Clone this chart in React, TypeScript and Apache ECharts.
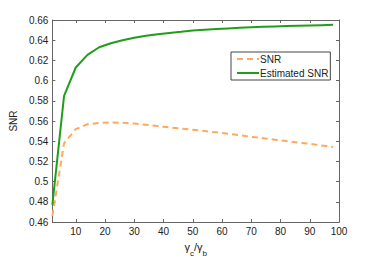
import React, { useEffect, useRef } from "react";
import * as echarts from "echarts";

const xValues = [2, 6, 10, 14, 18, 22, 26, 30, 34, 38, 42, 46, 50, 54, 58, 62, 66, 70, 74, 78, 82, 86, 90, 94, 98];
const snr = [0.466, 0.538, 0.552, 0.5568, 0.5582, 0.5586, 0.5583, 0.5575, 0.5563, 0.555, 0.5537, 0.5526, 0.5514, 0.5501, 0.5488, 0.5474, 0.5459, 0.5444, 0.543, 0.5416, 0.5402, 0.5388, 0.5374, 0.5359, 0.5344];
const estimatedSnr = [0.477, 0.585, 0.613, 0.6255, 0.633, 0.637, 0.64, 0.6425, 0.6445, 0.646, 0.6472, 0.6483, 0.6495, 0.6503, 0.651, 0.6517, 0.6523, 0.6528, 0.6532, 0.6536, 0.654, 0.6543, 0.6546, 0.6549, 0.6552];
const xTicks = [10, 20, 30, 40, 50, 60, 70, 80, 90, 100];
const seriesNames = ["SNR", "Estimated SNR"];

const FONT = "'Liberation Sans', Arial, sans-serif";
const AXIS_COLOR = "#666";

export default function App() {
  const ref = useRef<HTMLDivElement>(null);
  useEffect(() => {
    if (!ref.current) return;
    const chart = echarts.init(ref.current, null, { renderer: "svg" });
    const baseX = {
      type: "value" as const,
      min: 2,
      max: 100,
      splitLine: { show: false },
      axisLine: { show: true, lineStyle: { color: AXIS_COLOR, width: 1 } },
      axisTick: { show: true, inside: true, length: 3, customValues: xTicks, lineStyle: { color: AXIS_COLOR } },
    };
    const baseY = {
      type: "value" as const,
      min: 0.46,
      max: 0.66,
      interval: 0.02,
      splitLine: { show: false },
      axisLine: { show: true, lineStyle: { color: AXIS_COLOR, width: 1 } },
      axisTick: { show: true, inside: true, length: 3, lineStyle: { color: AXIS_COLOR } },
    };
    chart.setOption({
      animation: false,
      textStyle: { fontFamily: FONT },
      grid: { left: 49, right: 35, top: 20, bottom: 29, containLabel: false },
      legend: {
        data: seriesNames,
        orient: "vertical",
        left: 231,
        top: 52,
        itemWidth: 22,
        itemHeight: 10,
        itemGap: 4,
        padding: [2, 2, 2, 5],
        borderColor: "#444",
        borderWidth: 1,
        backgroundColor: "#fff",
        borderRadius: 0,
        itemStyle: { opacity: 0 },
        textStyle: { fontSize: 10, color: "#222", fontFamily: FONT, padding: [0, 0, 0, -4] },
      },
      xAxis: [
        {
          ...baseX,
          position: "bottom",
          axisLabel: { show: true, customValues: xTicks, fontSize: 10, color: "#222", margin: 4, fontFamily: FONT },
          name: "{a|γ}{s|c}{a|/γ}{s|b}",
          nameLocation: "middle",
          nameGap: 16,
          nameTextStyle: {
            color: "#222",
            rich: {
              a: { fontSize: 11, color: "#222", fontFamily: FONT, lineHeight: 16, verticalAlign: "top" },
              s: { fontSize: 8, color: "#222", fontFamily: FONT, lineHeight: 16, verticalAlign: "bottom" },
            },
          },
        },
        { ...baseX, position: "top", axisLabel: { show: false } },
      ],
      yAxis: [
        {
          ...baseY,
          position: "left",
          axisLabel: {
            show: true,
            fontSize: 10,
            color: "#222",
            margin: 4,
            fontFamily: FONT,
            formatter: (v: number) => String(+v.toFixed(2)),
          },
          name: "SNR",
          nameLocation: "middle",
          nameGap: 30,
          nameTextStyle: { fontSize: 10, color: "#222", fontFamily: FONT },
        },
        { ...baseY, position: "right", axisLabel: { show: false } },
      ],
      series: [
        {
          name: seriesNames[0],
          type: "line",
          data: xValues.map((x, i) => [x, snr[i]]),
          showSymbol: false,
          symbol: "none",
          lineStyle: { color: "#ffa95e", width: 2, type: [6, 4] },
          itemStyle: { color: "#ffa95e" },
        },
        {
          name: seriesNames[1],
          type: "line",
          data: xValues.map((x, i) => [x, estimatedSnr[i]]),
          showSymbol: false,
          symbol: "none",
          lineStyle: { color: "#1f9e1a", width: 2 },
          itemStyle: { color: "#1f9e1a" },
        },
      ],
    });
    return () => chart.dispose();
  }, []);
  return <div ref={ref} style={{ width: 374, height: 262, position: "absolute", left: 0, top: 0, background: "#fff" }} />;
}
